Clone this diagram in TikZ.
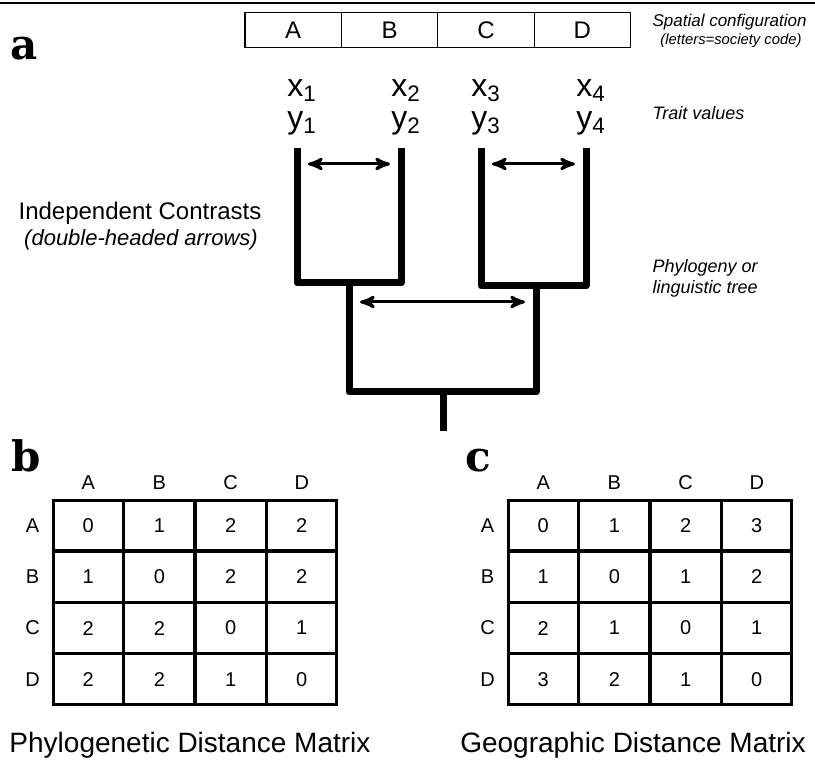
\documentclass[tikz,border=0pt]{standalone}
\usepackage{fontspec}
\setmainfont{Liberation Sans}
\newfontfamily\panelfont{DejaVu Serif}
\usetikzlibrary{arrows,matrix,positioning}

\begin{document}
\begin{tikzpicture}[x=0.5pt, y=-0.5pt, >=stealth', semithick]

    \tikzstyle{panel} = [font=\panelfont\bfseries\fontsize{21}{21}\selectfont, inner sep=0pt, anchor=base]
    \tikzstyle{site} = [rectangle, minimum width=48.2pt, minimum height=17.5pt, inner sep=0pt, outer sep=0pt, draw=black, line width=0.6pt, font=\fontsize{12}{12}\selectfont]
    \tikzstyle{trait} = [align=center, inner sep=0pt, font=\fontsize{16}{16}\selectfont]
    \tikzstyle{note} = [inner sep=0pt, anchor=west, align=left, font=\itshape\fontsize{9}{10.5}\selectfont]
    \tikzstyle{bigtext} = [inner sep=0pt, font=\fontsize{12}{12}\selectfont]
    \tikzstyle{matcap} = [inner sep=0pt, font=\fontsize{14}{14}\selectfont]
    \tikzstyle{branch} = [line width=3.5pt, line join=round]
    \tikzstyle{contrast} = [<->, line width=1.5pt, shorten <=5.5pt, shorten >=5.5pt]
    \tikzstyle{cell} = [rectangle, draw=black, line width=0.8pt, minimum width=34.8pt, minimum height=24.9pt, inner sep=0pt, outer sep=0pt, anchor=center, font=\fontsize{10}{10}\selectfont]
    \tikzstyle{dist} = [matrix of nodes, inner sep=0pt, column sep=0pt, row sep=0pt, anchor=north west, nodes={cell},
        row 1/.style={nodes={draw=none, minimum height=17pt}},
        column 1/.style={nodes={draw=none, minimum width=20pt}}]
    \tikzstyle{outline} = [line width=1.6pt]

    \useasboundingbox (0,0) rectangle (815,769);
    \draw[line width=0.75pt] (0,3) -- (815,3);

    % panel a: spatial layout, traits and tree
    \node (pa) [panel] at (24,60) {a};

    \node (siteA) [site, anchor=west] at (245,30) {A};
    \node (siteB) [site, right=0pt of siteA] {B};
    \node (siteC) [site, right=0pt of siteB] {C};
    \node (siteD) [site, right=0pt of siteC] {D};

    \node (spatial) [note, font=\itshape\fontsize{8.5}{10}\selectfont] at (652,22) {Spatial configuration};
    \node (society) [note, anchor=center, font=\itshape\fontsize{7.4}{8}\selectfont] at (731,41) {(letters=society code)};
    \node (traitnote) [note] at (652,113) {Trait values};
    \node (treenote) [note] at (652,278) {Phylogeny or\\linguistic tree};

    \node (valA) [trait] at (302,107) {x\textsubscript{1}\\y\textsubscript{1}};
    \node (valB) [trait] at (406,107) {x\textsubscript{2}\\y\textsubscript{2}};
    \node (valC) [trait] at (486,107) {x\textsubscript{3}\\y\textsubscript{3}};
    \node (valD) [trait] at (591,107) {x\textsubscript{4}\\y\textsubscript{4}};

    \node (contrasts) [bigtext] at (140,213) {Independent Contrasts};
    \node (contrastnote) [bigtext, font=\itshape\fontsize{11}{11}\selectfont] at (141,240) {(double-headed arrows)};

    \coordinate (tipA) at (297,148);
    \coordinate (tipB) at (401,148);
    \coordinate (tipC) at (481,148);
    \coordinate (tipD) at (586,148);
    \coordinate (nodeAB) at (349,283);
    \coordinate (nodeCD) at (536,286);
    \coordinate (rootnode) at (443,392);
    \coordinate (base) at (443,431);

    \draw[branch] (tipA) |- (nodeAB) -| (tipB);
    \draw[branch] (tipC) |- (nodeCD) -| (tipD);
    \draw[branch] (nodeAB) |- (rootnode) -| (nodeCD);
    \draw[branch] (rootnode) -- (base);

    \coordinate (armA) at (297,164);
    \coordinate (armB) at (401,164);
    \coordinate (armC) at (481,164);
    \coordinate (armD) at (586,164);
    \coordinate (armAB) at (349,302);
    \coordinate (armCD) at (536,302);

    \draw[contrast] (armA) -- (armB);
    \draw[contrast] (armC) -- (armD);
    \draw[contrast] (armAB) -- (armCD);

    % panel b
    \node (pb) [panel] at (26,472) {b};
    \matrix (phylo) [dist] at (12,465) {
          & A & B & C & D \\
        A & 0 & 1 & 2 & 2 \\
        B & 1 & 0 & 2 & 2 \\
        C & 2 & 2 & 0 & 1 \\
        D & 2 & 2 & 1 & 0 \\
    };
    \draw[outline] (phylo-2-2.north west) rectangle (phylo-5-5.south east);
    \node (phylocap) [matcap] at (190,745) {Phylogenetic Distance Matrix};

    % panel c
    \node (pc) [panel] at (478,472) {c};
    \matrix (geo) [dist] at (467,465) {
          & A & B & C & D \\
        A & 0 & 1 & 2 & 3 \\
        B & 1 & 0 & 1 & 2 \\
        C & 2 & 1 & 0 & 1 \\
        D & 3 & 2 & 1 & 0 \\
    };
    \draw[outline] (geo-2-2.north west) rectangle (geo-5-5.south east);
    \node (geocap) [matcap] at (633,745) {Geographic Distance Matrix};
\end{tikzpicture}
\end{document}
